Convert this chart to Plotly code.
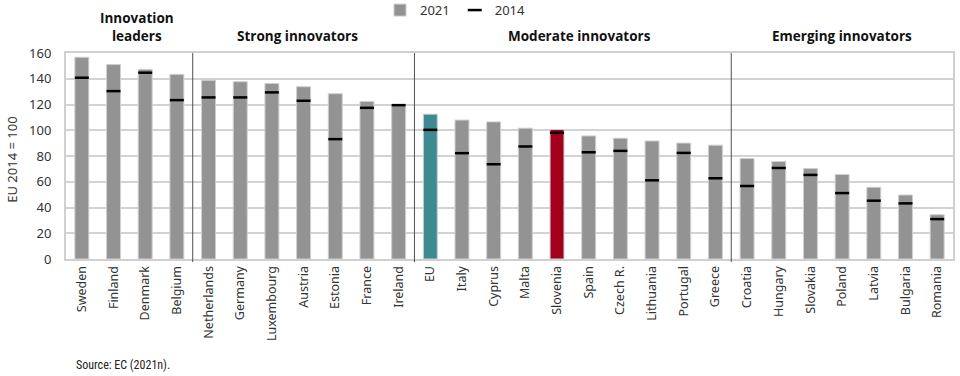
import plotly.graph_objects as go

countries = ["Sweden", "Finland", "Denmark", "Belgium", "Netherlands", "Germany",
             "Luxembourg", "Austria", "Estonia", "France", "Ireland", "EU", "Italy",
             "Cyprus", "Malta", "Slovenia", "Spain", "Czech R.", "Lithuania",
             "Portugal", "Greece", "Croatia", "Hungary", "Slovakia", "Poland",
             "Latvia", "Bulgaria", "Romania"]
v2021 = [156.7, 151.0, 147.3, 143.4, 138.8, 137.7, 136.4, 133.8, 128.4, 122.4,
         120.0, 112.5, 107.9, 106.5, 101.6, 100.6, 95.6, 93.8, 91.7, 90.0, 88.4,
         78.0, 75.7, 70.2, 65.6, 55.7, 49.7, 34.4]
v2014 = [140.8, 130.4, 144.7, 123.4, 125.5, 125.5, 129.4, 122.9, 93.1, 117.4,
         119.5, 100.3, 82.2, 73.6, 87.4, 98.0, 82.9, 84.0, 61.1, 82.4, 62.7,
         56.7, 70.7, 65.3, 51.2, 45.3, 43.2, 31.0]
groups = ["Innovation<br>leaders", "Strong innovators", "Moderate innovators", "Emerging innovators"]
group_centers = [1.75, 6.82, 15.72, 24.0]
separators = [3.5, 10.5, 20.5]

GREY = "#939393"
bar_colors = [GREY] * len(countries)
bar_colors[countries.index("EU")] = "#3b8b91"
bar_colors[countries.index("Slovenia")] = "#a3001d"

W, H = 960, 376
L, R, T, B = 66, 7, 53, 116.5
pw, ph = W - L - R, H - T - B


def px_x(x):
    return (x - L) / pw


def px_y(y):
    return 1 - (y - T) / ph


fig = go.Figure()
fig.add_trace(go.Bar(
    x=countries, y=v2021, name="2021", width=0.44,
    marker=dict(color=bar_colors, line=dict(color="#cfcfcf", width=1)),
))
fig.add_trace(go.Scatter(
    x=countries, y=v2014, name="2014", mode="markers",
    marker=dict(symbol="line-ew", size=10, color="black",
                line=dict(color="black", width=2.5)),
))

shapes = []
for s in separators:
    shapes.append(dict(type="line", xref="x", yref="paper", x0=s, x1=s,
                       y0=-0.015, y1=1, line=dict(color="#505050", width=1)))
fig.update_layout(shapes=shapes)

annotations = []
for g, c in zip(groups, group_centers):
    annotations.append(dict(text="<b>" + g + "</b>", x=c, xref="x",
                            y=1.0, yref="paper", yanchor="bottom", yshift=6,
                            showarrow=False,
                            font=dict(family="Open Sans, Noto Sans", size=13.5, color="#111")))
annotations.append(dict(text="EU 2014 = 100", textangle=-90,
                        x=px_x(12), xref="paper", xanchor="center",
                        y=px_y(160), yref="paper", yanchor="middle",
                        showarrow=False,
                        font=dict(family="Noto Sans", size=13, color="#333")))
annotations.append(dict(text="Source: EC (2021n).", x=px_x(74), xref="paper",
                        xanchor="left", y=px_y(366), yref="paper",
                        yanchor="middle", showarrow=False,
                        font=dict(family="Liberation Sans Narrow, Roboto Condensed, Roboto", size=12, color="#222")))
fig.update_layout(annotations=annotations)

fig.update_layout(
    width=W, height=H,
    margin=dict(l=L, r=R, t=T, b=B, autoexpand=False),
    paper_bgcolor="white", plot_bgcolor="white",
    bargap=0.56,
    showlegend=True,
    legend=dict(orientation="h", x=px_x(380), xanchor="left",
                y=px_y(10), yanchor="middle",
                font=dict(family="Noto Sans", size=13, color="#333"),
                itemwidth=30, tracegroupgap=0, bgcolor="rgba(0,0,0,0)"),
    xaxis=dict(type="category", tickangle=-90, showgrid=False,
               showline=True, linecolor="#d0d0d0", linewidth=2, mirror=True,
               tickfont=dict(family="Noto Sans", size=12.5, color="#333"),
               ticks="", range=[-0.5, len(countries) - 0.5], automargin=False),
    yaxis=dict(range=[0, 160], dtick=20, showgrid=True, gridcolor="#d3d3d3", gridwidth=2,
               showline=True, linecolor="#d0d0d0", linewidth=2, mirror=True,
               zeroline=False, ticks="", ticklabelstandoff=10, automargin=False,
               tickfont=dict(family="Noto Sans", size=13, color="#333")),
)

fig.write_html("out.html",
               config={"displayModeBar": False},
               post_script="document.body.style.margin='0';document.body.style.padding='0';")
